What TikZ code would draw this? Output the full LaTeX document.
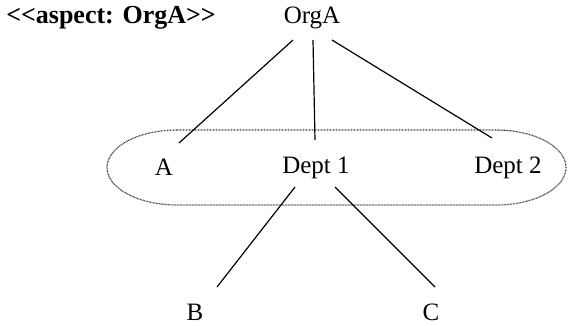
\documentclass[tikz,border=0pt]{standalone}
\usepackage{fontspec}
\setmainfont{Liberation Serif}
\usetikzlibrary{calc}
\begin{document}
\begin{tikzpicture}[x=1pt,y=-1pt,
  lbl/.style={inner sep=0pt, anchor=base, font=\fontsize{25}{30}\selectfont},
  edge/.style={line width=1.2pt, black},
  group/.style={line width=1.2pt, gray!45!black, dash pattern=on 0.8pt off 0.7pt}]
\useasboundingbox (0,0) rectangle (568,325);
\node[lbl, font=\fontsize{26}{31}\selectfont\bfseries] (asp) at (111,23) {<{}<aspect: OrgA>{}>};
\node[lbl] (OrgA) at (312,23) {OrgA};
\node[lbl] (A) at (164,175) {A};
\node[lbl] (D1) at (316,173) {Dept 1};
\node[lbl] (D2) at (508,173) {Dept 2};
\node[lbl] (B) at (195,320) {B};
\node[lbl] (C) at (431,320) {C};
\draw[group] (177,130) -- (496,130)
  arc[start angle=90, end angle=-90, x radius=70pt, y radius=37.5pt]
  -- (177,205)
  arc[start angle=270, end angle=90, x radius=70pt, y radius=37.5pt] -- cycle;
\draw[edge] ($(OrgA.base)+(-19,17)$) -- ($(A.base)+(15,-32)$);
\draw[edge] ($(OrgA.base)+(1,17)$) -- ($(D1.base)+(-1,-33)$);
\draw[edge] ($(OrgA.base)+(20,17)$) -- ($(D2.base)+(-16,-35)$);
\draw[edge] ($(D1.base)+(-21,14)$) -- ($(B.base)+(22,-33)$);
\draw[edge] ($(D1.base)+(19,14)$) -- ($(C.base)+(4,-33)$);
\end{tikzpicture}
\end{document}
